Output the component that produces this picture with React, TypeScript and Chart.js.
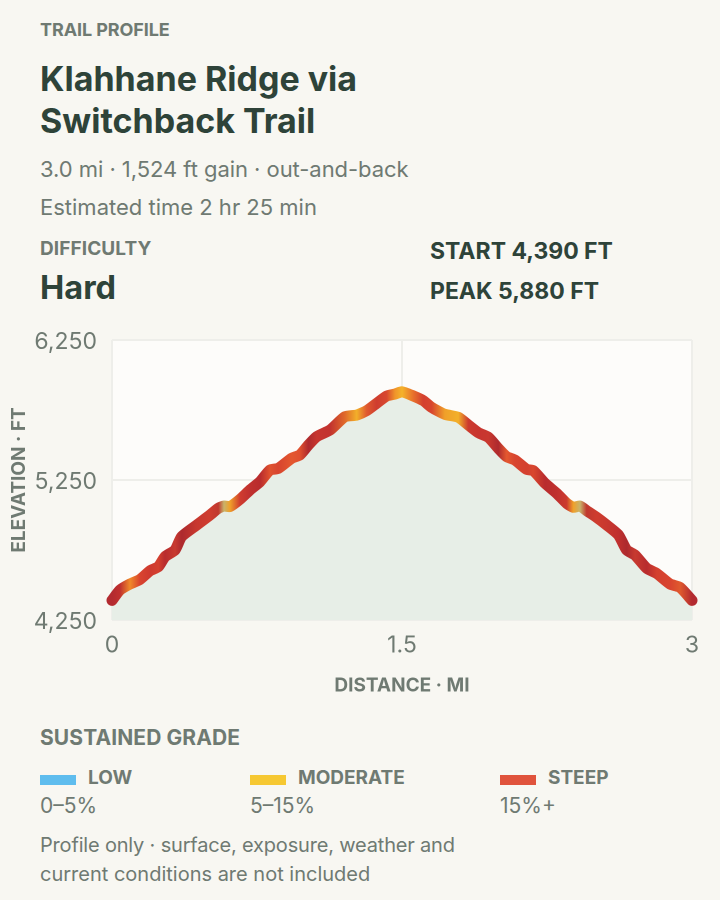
import React, { useEffect, useRef } from "react";
import { Chart, registerables } from "chart.js";

Chart.register(...registerables);

const distanceMi = [0, 0.041, 0.093, 0.145, 0.197, 0.24, 0.274, 0.326, 0.36, 0.438, 0.507, 0.55, 0.579, 0.61, 0.662, 0.714, 0.766, 0.817, 0.86, 0.929, 0.972, 1.016, 1.059, 1.128, 1.205, 1.266, 1.317, 1.369, 1.421, 1.464, 1.5,
  1.559, 1.61, 1.653, 1.722, 1.791, 1.843, 1.895, 1.947, 1.998, 2.041, 2.084, 2.145, 2.179, 2.24, 2.3, 2.352, 2.386, 2.421, 2.455, 2.507, 2.559, 2.62, 2.662, 2.705, 2.766, 2.817, 2.886, 2.938, 3];
const elevationFt = [4390, 4464, 4507, 4540, 4602, 4631, 4702, 4750, 4845, 4928, 5000, 5048, 5064, 5060, 5112, 5179, 5238, 5321, 5333, 5405, 5429, 5500, 5560, 5607, 5702, 5714, 5745, 5798, 5850, 5864, 5880,
  5850, 5817, 5769, 5719, 5698, 5643, 5588, 5555, 5476, 5417, 5393, 5326, 5317, 5226, 5155, 5083, 5055, 5064, 5031, 4983, 4928, 4857, 4750, 4714, 4619, 4583, 4507, 4483, 4390];
const gradeColors = ["#b32a30", "#c0302f", "#f08a2a", "#d9442f", "#cf3a2f", "#d4402f", "#b82c2e", "#c83a30", "#ad2a2e", "#c8382f", "#cf3d2f", "#c0392f", "#c9b36a", "#f0a12a", "#d03c2f", "#c0312f", "#b92c2e", "#e0522f", "#d8452f", "#e4582f", "#e0502f", "#ae2a2e", "#c7352f", "#c2332f", "#e06a2a", "#f3b02a", "#e05a30", "#cf3d2f", "#d8482f", "#f0952a", "#f5b32a",
  "#e8702c", "#d4402f", "#d8452f", "#f0a12a", "#f3b02a", "#cc3a2f", "#c8352f", "#c9392f", "#ae2a2e", "#e4582f", "#d8452f", "#d4402f", "#d9472f", "#b92c2e", "#c0312f", "#cc3a2f", "#f0a12a", "#c9b36a", "#c0392f", "#cf3d2f", "#c8382f", "#c0302f", "#ad2a2e", "#c83a30", "#b82c2e", "#d4402f", "#d9442f", "#e05a2e", "#b32a30"];
const xTicks = [0, 1.5, 3];
const yTicks = [4250, 5250, 6250];
const legendItems = [
  { name: "LOW", range: "0–5%", color: "#5fbdee", left: 40 },
  { name: "MODERATE", range: "5–15%", color: "#f6c832", left: 250 },
  { name: "STEEP", range: "15%+", color: "#e0533c", left: 500 },
];

const INK = "#2e4339";
const MUTED = "#6f7a72";
const FONT = "Inter, sans-serif";

function T(props: { x: number; cy: number; size: number; bold?: boolean; color?: string; children: React.ReactNode; ls?: number }) {
  const { x, cy, size, bold, color, children, ls } = props;
  return (
    <div style={{ position: "absolute", left: x, top: cy - 20, height: 40, lineHeight: "40px", fontSize: size, fontWeight: bold ? 700 : 400, color: color || MUTED, whiteSpace: "nowrap", letterSpacing: ls ?? 0 }}>
      {children}
    </div>
  );
}

const plotBg = {
  id: "plotBg",
  beforeDraw(chart: any) {
    const { ctx, chartArea: a } = chart;
    ctx.save();
    ctx.fillStyle = "#fdfcfa";
    ctx.fillRect(a.left, a.top, a.right - a.left, a.bottom - a.top);
    ctx.restore();
  },
};

export default function App() {
  const ref = useRef<HTMLCanvasElement>(null);
  useEffect(() => {
    document.body.style.margin = "0";
    document.body.style.background = "#f8f7f2";
    const chart = new Chart(ref.current!, {
      type: "line",
      plugins: [plotBg],
      data: {
        datasets: [
          {
            data: distanceMi.map((d, i) => ({ x: d, y: elevationFt[i] })),
            borderWidth: 11,
            borderCapStyle: "round",
            borderJoinStyle: "round",
            tension: 0.2,
            pointRadius: 0,
            fill: "start",
            backgroundColor: "#e7eee7",
            clip: false,
            borderColor: (c: any) => {
              const { chart: ch } = c;
              const a = ch.chartArea;
              if (!a) return "#d03c2f";
              const g = ch.ctx.createLinearGradient(a.left, 0, a.right, 0);
              distanceMi.forEach((d, i) => g.addColorStop(d / 3, gradeColors[i]));
              return g;
            },
          } as any,
        ],
      },
      options: {
        animation: false,
        responsive: false,
        devicePixelRatio: 2,
        layout: { padding: { top: 20, right: 28, left: 0, bottom: 0 } },
        plugins: { legend: { display: false }, tooltip: { enabled: false } },
        scales: {
          x: {
            type: "linear",
            min: 0,
            max: 3,
            afterBuildTicks: (s: any) => { s.ticks = xTicks.map((value) => ({ value })); },
            afterFit: (s: any) => { s.height = 80; },
            grid: { color: "#eeeeea", lineWidth: 2, drawTicks: false },
            border: { display: false },
            ticks: { padding: 12, maxRotation: 0, color: MUTED, font: { family: FONT, size: 23 }, callback: (v: any) => String(v) },
            title: { display: true, text: "DISTANCE · MI", color: MUTED, font: { family: FONT, size: 19, weight: "bold" }, padding: { top: 7, bottom: 3 } },
          },
          y: {
            type: "linear",
            min: 4250,
            max: 6250,
            afterBuildTicks: (s: any) => { s.ticks = yTicks.map((value) => ({ value })); },
            afterFit: (s: any) => { s.width = 112; s.paddingTop = 0; s.paddingBottom = 0; },
            grid: { color: "#eeeeea", lineWidth: 2, drawTicks: false },
            border: { display: false },
            ticks: { padding: 15, labelOffset: 2, color: MUTED, font: { family: FONT, size: 23 }, callback: (v: any) => Number(v).toLocaleString("en-US") },
            title: { display: true, text: "ELEVATION · FT", color: MUTED, font: { family: FONT, size: 19, weight: "bold" }, padding: { top: 8, bottom: 0 } },
          },
        },
      },
    } as any);
    return () => chart.destroy();
  }, []);

  return (
    <div style={{ position: "relative", width: 720, height: 900, background: "#f8f7f2", fontFamily: FONT, overflow: "hidden" }}>
      <T x={40} cy={30} size={18} bold ls={-0.1}>TRAIL PROFILE</T>
      <T x={40} cy={79} size={34} bold color={INK}>Klahhane Ridge via</T>
      <T x={40} cy={121} size={34} bold color={INK}>Switchback Trail</T>
      <T x={40} cy={169} size={22} ls={-0.05}>3.0 mi · 1,524 ft gain · out-and-back</T>
      <T x={40} cy={207} size={22}>Estimated time 2 hr 25 min</T>
      <T x={40} cy={249} size={19} bold ls={0.1}>DIFFICULTY</T>
      <T x={40} cy={288} size={32.5} bold color={INK}>Hard</T>
      <T x={430} cy={250.5} size={23} bold color={INK}>START 4,390 FT</T>
      <T x={430} cy={290.5} size={23} bold color={INK}>PEAK 5,880 FT</T>
      <canvas ref={ref} width={720} height={380} style={{ position: "absolute", left: 0, top: 320, width: 720, height: 380 }} />
      <T x={40} cy={738} size={21} bold ls={0.1}>SUSTAINED GRADE</T>
      {legendItems.map((l) => (
        <React.Fragment key={l.name}>
          <div style={{ position: "absolute", left: l.left, top: 775, width: 36, height: 10, background: l.color }} />
          <T x={l.left + 48} cy={778} size={19} bold>{l.name}</T>
          <T x={l.left} cy={806} size={21}>{l.range}</T>
        </React.Fragment>
      ))}
      <T x={40} cy={845} size={20} ls={-0.18}>Profile only · surface, exposure, weather and</T>
      <T x={40} cy={874} size={20}>current conditions are not included</T>
    </div>
  );
}
